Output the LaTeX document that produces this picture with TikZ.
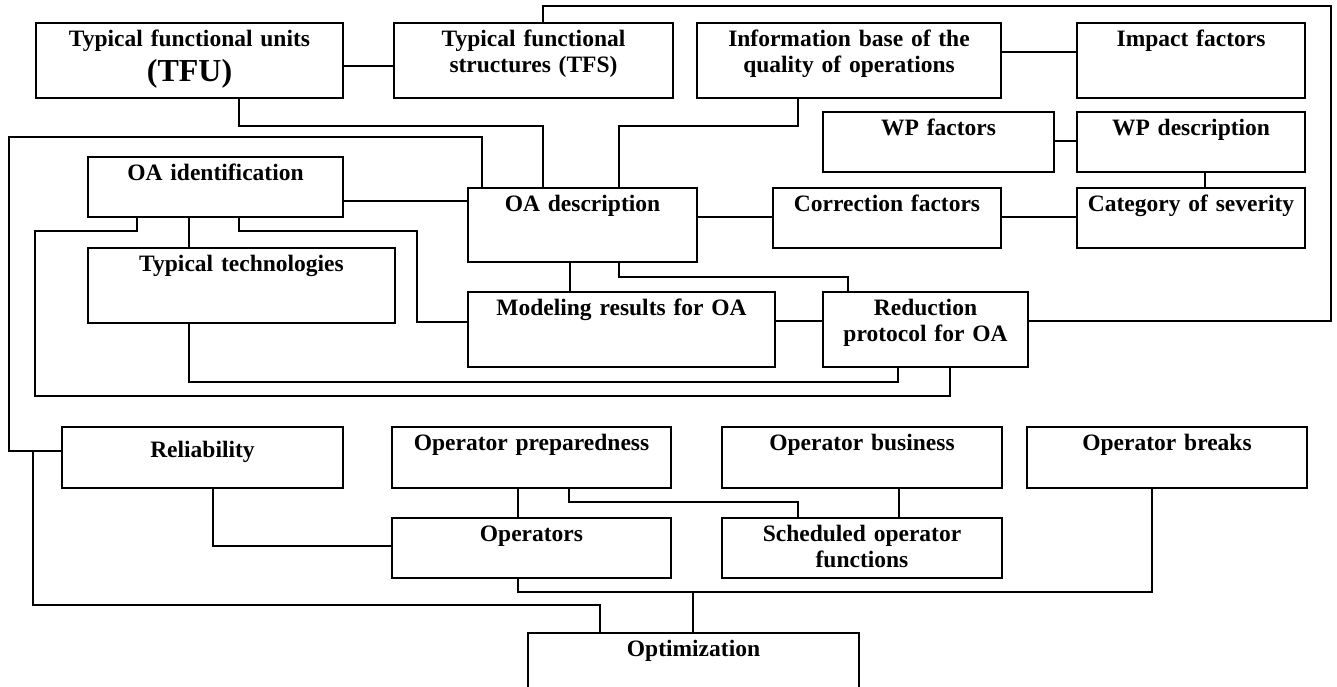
\documentclass[tikz,border=0pt]{standalone}
\usepackage{fontspec}
\setmainfont{Liberation Serif}

\tikzset{
  blk/.style 2 args={draw, anchor=north west, inner sep=0pt, align=center,
    font=\fontsize{11.75}{13}\selectfont\bfseries,
    text height=11.5pt, text width=#1, text depth=#2},
}

\begin{document}
\begin{tikzpicture}[x=0.5pt, y=-0.5pt, line width=1pt]
        \useasboundingbox (0,0) rectangle (1337,686);
        \node[blk={153.5pt}{26pt}] (tfu) at (35,22) {Typical functional units\\[3pt]{\fontsize{16}{16}\selectfont (TFU)}};
        \node[blk={139.5pt}{26pt}] (tfs) at (393,22) {Typical functional\\structures (TFS)};
        \node[blk={152pt}{26pt}] (info) at (696,22) {Information base of the\\quality of operations};
        \node[blk={114pt}{26pt}] (impact) at (1076,22) {Impact factors};
        \node[blk={115.5pt}{18.5pt}] (wpf) at (822,111) {WP factors};
        \node[blk={114pt}{18.5pt}] (wpd) at (1076,111) {WP description};
        \node[blk={127.5pt}{18.5pt}] (oaid) at (87,156) {OA identification};
        \node[blk={114.5pt}{25.5pt}] (oadesc) at (467,187) {OA description};
        \node[blk={114pt}{18.5pt}] (corr) at (772,187) {Correction factors};
        \node[blk={114pt}{18.5pt}] (sev) at (1076,187) {Category of severity};
        \node[blk={153.5pt}{26pt}] (tech) at (87,247) {Typical technologies};
        \node[blk={153.5pt}{26pt}] (model) at (467,291) {Modeling results for OA};
        \node[blk={102.5pt}{26pt}] (reduc) at (822,291) {Reduction\\protocol for OA};
        \node[blk={140.5pt}{15.5pt}, text height=15pt] (relia) at (61,426) {Reliability};
        \node[blk={139.5pt}{19pt}] (prep) at (391,426) {Operator preparedness};
        \node[blk={140pt}{19pt}] (busi) at (721,426) {Operator business};
        \node[blk={140pt}{19pt}] (breaks) at (1026,426) {Operator breaks};
        \node[blk={139.5pt}{18.5pt}] (oper) at (391,517) {Operators};
        \node[blk={140pt}{18.5pt}] (sched) at (721,517) {Scheduled operator\\functions};
        \node[blk={165.5pt}{24pt}] (optim) at (527,632) {Optimization};
        \coordinate (jrel) at (33,451);
        \coordinate (jopt) at (693,592);
        \draw (tfu.east |- 0,66) -- (tfs.west |- 0,66);
        \draw (info.east |- 0,52) -- (impact.west |- 0,52);
        \draw (wpf.east |- 0,141) -- (wpd.west |- 0,141);
        \draw (wpd.south -| 1205,0) -- (sev.north -| 1205,0);
        \draw (oaid.east |- 0,201) -- (oadesc.west |- 0,201);
        \draw (oadesc.east |- 0,217) -- (corr.west |- 0,217);
        \draw (corr.east |- 0,217) -- (sev.west |- 0,217);
        \draw (tfu.south -| 239,0) -- (239,126) -| (oadesc.north -| 543,0);
        \draw (info.south -| 798,0) -- (798,126) -| (oadesc.north -| 619,0);
        \draw (oadesc.north -| 482,0) -- (482,137) -| (9,451) -- (relia.west |- 0,451);
        \draw (jrel) -- (33,605) -| (optim.north -| 600,0);
        \draw (tfs.north -| 543,0) -- (543,6) -| (1331,321) -- (reduc.east |- 0,321);
        \draw (oaid.south -| 137,0) -- (137,231) -| (35,396) -| (reduc.south -| 950,0);
        \draw (oaid.south -| 189,0) -- (tech.north -| 189,0);
        \draw (oaid.south -| 239,0) -- (239,231) -| (417,322) -- (model.west |- 0,322);
        \draw (tech.south -| 189,0) |- (898,382) -- (reduc.south -| 898,0);
        \draw (oadesc.south -| 570,0) -- (model.north -| 570,0);
        \draw (oadesc.south -| 619,0) -- (619,277) -| (reduc.north -| 848,0);
        \draw (model.east |- 0,321) -- (reduc.west |- 0,321);
        \draw (relia.south -| 213,0) |- (oper.west |- 0,546);
        \draw (prep.south -| 518,0) -- (oper.north -| 518,0);
        \draw (prep.south -| 569,0) -- (569,502) -| (sched.north -| 798,0);
        \draw (busi.south -| 899,0) -- (sched.north -| 899,0);
        \draw (oper.south -| 518,0) |- (jopt) -- (optim.north -| 693,0);
        \draw (breaks.south -| 1152,0) |- (jopt);
        \end{tikzpicture}
\end{document}
